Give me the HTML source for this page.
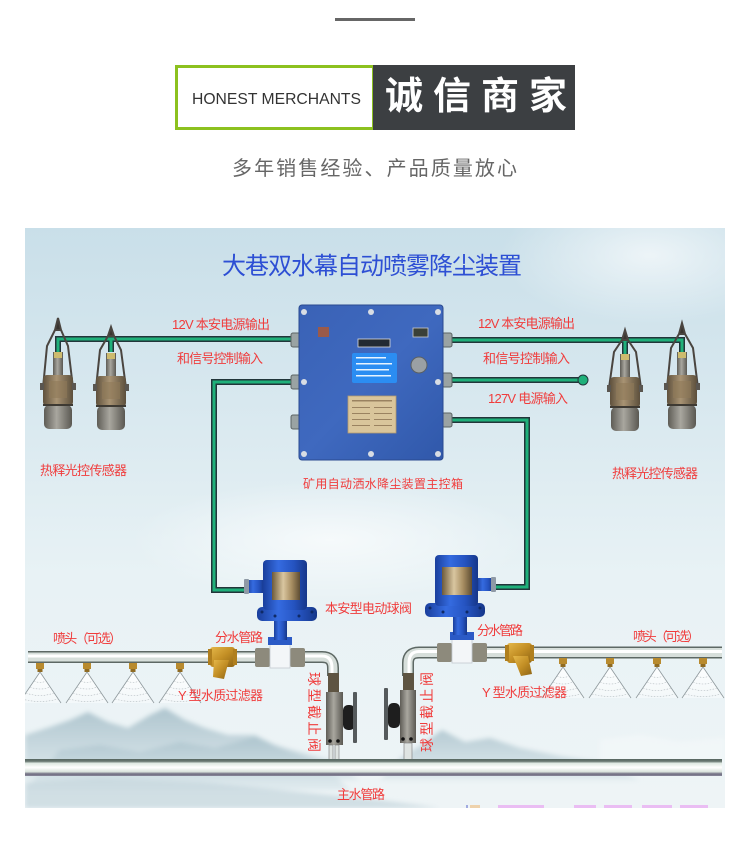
<!DOCTYPE html>
<html><head><meta charset="utf-8"><style>
html,body{margin:0;padding:0;background:#fff;}
svg{display:block}
text{font-family:"Liberation Sans","Noto Sans CJK SC",sans-serif;}
</style></head><body>
<svg width="750" height="850" viewBox="0 0 750 850" xmlns="http://www.w3.org/2000/svg">
<defs>
 <linearGradient id="bg" x1="0" y1="0" x2="0" y2="1">
  <stop offset="0" stop-color="#c9dfe9"/>
  <stop offset="0.3" stop-color="#d8e8ef"/>
  <stop offset="0.6" stop-color="#e8f2f5"/>
  <stop offset="1" stop-color="#eef4f6"/>
 </linearGradient>
 <radialGradient id="cloud" cx="0.5" cy="0.5" r="0.5">
  <stop offset="0" stop-color="#ffffff" stop-opacity="0.65"/>
  <stop offset="1" stop-color="#ffffff" stop-opacity="0"/>
 </radialGradient>
 <linearGradient id="mtn" x1="0" y1="0" x2="0" y2="1">
  <stop offset="0" stop-color="#a9c1cb"/>
  <stop offset="1" stop-color="#dde9ed"/>
 </linearGradient>
 <linearGradient id="boxg" x1="0" y1="0" x2="1" y2="1">
  <stop offset="0" stop-color="#3a62b6"/>
  <stop offset="0.5" stop-color="#3f69bf"/>
  <stop offset="1" stop-color="#3058aa"/>
 </linearGradient>
 <linearGradient id="bluev" x1="0" y1="0" x2="1" y2="0">
  <stop offset="0" stop-color="#1a3f9c"/>
  <stop offset="0.35" stop-color="#356be0"/>
  <stop offset="0.7" stop-color="#2553c0"/>
  <stop offset="1" stop-color="#163789"/>
 </linearGradient>
 <linearGradient id="copper" x1="0" y1="0" x2="1" y2="0">
  <stop offset="0" stop-color="#6d5a3a"/>
  <stop offset="0.4" stop-color="#d9c6a0"/>
  <stop offset="0.7" stop-color="#a88e62"/>
  <stop offset="1" stop-color="#5e4d33"/>
 </linearGradient>
 <linearGradient id="bronze" x1="0" y1="0" x2="1" y2="0">
  <stop offset="0" stop-color="#5f513d"/>
  <stop offset="0.45" stop-color="#a89373"/>
  <stop offset="1" stop-color="#5c4f3c"/>
 </linearGradient>
 <linearGradient id="steel" x1="0" y1="0" x2="1" y2="0">
  <stop offset="0" stop-color="#5e5c56"/>
  <stop offset="0.45" stop-color="#a9a79f"/>
  <stop offset="1" stop-color="#5a5852"/>
 </linearGradient>
 <linearGradient id="brass" x1="0" y1="0" x2="1" y2="1">
  <stop offset="0" stop-color="#e5b84a"/>
  <stop offset="0.5" stop-color="#c38f25"/>
  <stop offset="1" stop-color="#8e6414"/>
 </linearGradient>
 <linearGradient id="mainp" x1="0" y1="0" x2="0" y2="1">
  <stop offset="0" stop-color="#56655f"/>
  <stop offset="0.14" stop-color="#6b7a74"/>
  <stop offset="0.25" stop-color="#dfe8e2"/>
  <stop offset="0.5" stop-color="#ffffff"/>
  <stop offset="0.75" stop-color="#d9e2dc"/>
  <stop offset="0.88" stop-color="#6e6c80"/>
  <stop offset="1" stop-color="#8a889a"/>
 </linearGradient>
 <linearGradient id="spray" x1="0" y1="0" x2="0" y2="1">
  <stop offset="0" stop-color="#ffffff" stop-opacity="0.9"/>
  <stop offset="1" stop-color="#ffffff" stop-opacity="0.4"/>
 </linearGradient>
 <clipPath id="dclip"><rect x="25" y="228" width="700" height="580"/></clipPath>
 <filter id="blur2"><feGaussianBlur stdDeviation="2.5"/></filter>
 <g id="sbody">
  <rect x="-5" y="-23" width="10" height="23" fill="url(#steel)"/>
  <rect x="-4" y="-23" width="8" height="6" fill="#cdbb6e"/>
  <rect x="-15" y="0" width="30" height="31" rx="4" fill="url(#bronze)"/>
  <rect x="-14" y="30" width="28" height="24" rx="5" fill="url(#steel)"/>
  <rect x="-15" y="29" width="30" height="2" fill="#3e3a33"/>
  <rect x="-18" y="8" width="4" height="7" fill="#5a5650"/>
  <rect x="14" y="8" width="4" height="7" fill="#5a5650"/>
  <rect x="-9" y="6" width="18" height="17" fill="#8f7a58" opacity="0.6"/>
 </g>
 <g id="cone">
  <path d="M0 0 L-21 31 L21 31 Z" fill="url(#spray)" stroke="none"/>
  <path d="M0 0 L-21 31 M0 0 L21 31" stroke="#8e989c" stroke-width="0.8" fill="none"/>
  <path d="M-6 9 Q0 12 6 9 M-10 15 Q0 19 10 15 M-14 21 Q0 26 14 21 M-18 27 Q0 32 18 27" stroke="#b4bcc0" stroke-width="0.6" fill="none" stroke-dasharray="1.5 1.5"/>
 </g>
 <g id="nozzle">
  <rect x="-4" y="0" width="8" height="6" fill="#b88a2e"/>
  <rect x="-2.5" y="6" width="5" height="3" fill="#8f6a20"/>
 </g>
</defs>

<!-- Header -->
<rect x="335" y="18" width="80" height="3" fill="#666"/>
<rect x="176.5" y="66.5" width="197" height="62" fill="#fff" stroke="#8cc11f" stroke-width="3"/>
<rect x="373" y="65" width="202" height="65" fill="#3c3f42"/>
<text x="192" y="104" font-size="16" fill="#333" textLength="169" lengthAdjust="spacingAndGlyphs">HONEST MERCHANTS</text>
<text x="385" y="109" font-size="38" font-weight="bold" fill="#fff" textLength="182" lengthAdjust="spacing">诚信商家</text>
<text x="232" y="175" font-size="20" fill="#666" textLength="285" lengthAdjust="spacing">多年销售经验、产品质量放心</text>

<!-- Diagram -->
<g clip-path="url(#dclip)">
 <rect x="25" y="228" width="700" height="580" fill="url(#bg)"/>
 <ellipse cx="650" cy="255" rx="150" ry="70" fill="url(#cloud)"/>
 <ellipse cx="330" cy="540" rx="200" ry="60" fill="url(#cloud)"/>
 <g filter="url(#blur2)">
  <polygon points="25,780 25,735 50,727 70,720 88,712 108,722 128,728 150,715 165,708 185,720 205,728 228,735 255,735 275,745 300,752 330,760 360,780" fill="url(#mtn)" opacity="0.9"/>
  <polygon points="25,790 60,750 100,745 140,752 180,742 215,748 255,737 285,750 320,762 350,790" fill="url(#mtn)" opacity="0.8"/>
  <polygon points="380,780 400,758 420,746 442,730 465,742 490,738 520,748 560,756 600,762 640,780" fill="url(#mtn)" opacity="0.8"/>
  <polygon points="25,808 25,782 100,778 200,782 300,792 380,800 440,808" fill="#c4d6dd" opacity="0.7"/>
  <polygon points="600,740 640,735 680,742 725,738 725,770 600,770" fill="#f4f8f9" opacity="0.7"/>
 </g>

 <!-- Title -->
 <text x="222" y="274" font-size="24" fill="#2d4fd4" textLength="300" lengthAdjust="spacing">大巷双水幕自动喷雾降尘装置</text>

 <!-- Cables -->
 <g fill="none" stroke-linejoin="miter">
  <path d="M58 352 V339 H300 M111 352 V339" stroke="#22353a" stroke-width="6"/>
  <path d="M58 352 V339 H300 M111 352 V339" stroke="#1fb07a" stroke-width="3"/>
  <path d="M300 382 H214 V590 H248" stroke="#22353a" stroke-width="6"/>
  <path d="M300 382 H214 V590 H248" stroke="#1fb07a" stroke-width="3"/>
  <path d="M443 340 H682 V352 M625 340 V354" stroke="#22353a" stroke-width="6"/>
  <path d="M443 340 H682 V352 M625 340 V354" stroke="#1fb07a" stroke-width="3"/>
  <path d="M443 380 H583" stroke="#22353a" stroke-width="6"/>
  <path d="M443 380 H583" stroke="#1fb07a" stroke-width="3"/>
  <path d="M443 420 H527 V587 H492" stroke="#22353a" stroke-width="6"/>
  <path d="M443 420 H527 V587 H492" stroke="#1fb07a" stroke-width="3"/>
 </g>
 <circle cx="583" cy="380" r="5" fill="#1fb07a" stroke="#22353a" stroke-width="1"/>

 <!-- Sensors -->
 <g stroke="#4a4540" stroke-width="2" fill="none">
  <path d="M55 330 L58 318 L61 330 Z" fill="#3a3530"/>
  <path d="M55 330 L47 346 L43 388 M61 330 L68 346 L73 388"/>
  <path d="M108 336 L111 327 L114 336 Z" fill="#3a3530"/>
  <path d="M108 336 L100 350 L96 388 M114 336 L121 350 L126 388"/>
  <path d="M622 340 L625 330 L628 340 Z" fill="#3a3530"/>
  <path d="M622 340 L614 352 L609 388 M628 340 L636 352 L641 388"/>
  <path d="M679 334 L682 323 L685 334 Z" fill="#3a3530"/>
  <path d="M679 334 L671 348 L667 388 M685 334 L693 348 L698 388"/>
 </g>
 <use href="#sbody" x="58" y="375"/>
 <use href="#sbody" x="111" y="376"/>
 <use href="#sbody" x="625" y="377"/>
 <use href="#sbody" x="682" y="375"/>

 <!-- Control box glands -->
 <g fill="#9aa3a3" stroke="#5c6464" stroke-width="1">
  <rect x="291" y="333" width="10" height="14" rx="2"/>
  <rect x="291" y="375" width="10" height="14" rx="2"/>
  <rect x="291" y="415" width="10" height="14" rx="2"/>
  <rect x="442" y="333" width="10" height="14" rx="2"/>
  <rect x="442" y="373" width="10" height="14" rx="2"/>
  <rect x="442" y="413" width="10" height="14" rx="2"/>
 </g>
 <!-- Control box -->
 <rect x="299" y="305" width="144" height="155" rx="3" fill="url(#boxg)" stroke="#2a4a90" stroke-width="1"/>
 <g fill="#d8dde4">
  <circle cx="304" cy="312" r="3"/><circle cx="371" cy="312" r="3"/><circle cx="438" cy="312" r="3"/>
  <circle cx="304" cy="382" r="3"/><circle cx="438" cy="382" r="3"/>
  <circle cx="304" cy="454" r="3"/><circle cx="371" cy="454" r="3"/><circle cx="438" cy="454" r="3"/>
 </g>
 <rect x="318" y="327" width="11" height="10" fill="#9a5a4a"/>
 <rect x="413" y="328" width="15" height="9" fill="#3a4038" stroke="#ccc" stroke-width="0.8"/>
 <rect x="358" y="339" width="32" height="8" fill="#222a33" stroke="#ddd" stroke-width="0.8"/>
 <rect x="352" y="353" width="45" height="30" rx="2" fill="#2b8df2"/>
 <g fill="#e8f4ff">
  <rect x="356" y="357" width="30" height="1.5"/>
  <rect x="356" y="363" width="36" height="1.5"/>
  <rect x="356" y="369" width="33" height="1.5"/>
  <rect x="356" y="375" width="35" height="1.5"/>
 </g>
 <circle cx="419" cy="365" r="8" fill="#9aa0a4" stroke="#5a6064"/>
 <rect x="348" y="396" width="48" height="37" fill="#d9c59b" stroke="#b49a6e" stroke-width="0.8"/>
 <g fill="#9a8260">
  <rect x="352" y="400" width="40" height="1.5"/>
  <rect x="352" y="407" width="18" height="1"/><rect x="374" y="407" width="18" height="1"/>
  <rect x="352" y="413" width="18" height="1"/><rect x="374" y="413" width="18" height="1"/>
  <rect x="352" y="419" width="18" height="1"/><rect x="374" y="419" width="18" height="1"/>
  <rect x="352" y="425" width="18" height="1"/><rect x="374" y="425" width="18" height="1"/>
 </g>

 <!-- Branch pipes -->
 <g fill="none" stroke-linecap="butt">
  <path d="M28 657 H322 Q333 657 333 668 V676" stroke="#5d6864" stroke-width="12"/>
  <path d="M28 657 H322 Q333 657 333 668 V676" stroke="#d7dfdb" stroke-width="9"/>
  <path d="M28 656 H322 Q332 656 332 668 V676" stroke="#ffffff" stroke-width="3"/>
  <path d="M722 652.5 H419 Q408 652.5 408 663 V676" stroke="#5d6864" stroke-width="12"/>
  <path d="M722 652.5 H419 Q408 652.5 408 663 V676" stroke="#d7dfdb" stroke-width="9"/>
  <path d="M722 651.5 H419 Q409 651.5 409 663 V676" stroke="#ffffff" stroke-width="3"/>
 </g>

 <!-- Nozzles and sprays -->
 <use href="#nozzle" x="40" y="663"/><use href="#nozzle" x="87" y="663"/>
 <use href="#nozzle" x="133" y="663"/><use href="#nozzle" x="180" y="663"/>
 <use href="#cone" x="40" y="672"/><use href="#cone" x="87" y="672"/>
 <use href="#cone" x="133" y="672"/><use href="#cone" x="180" y="672"/>
 <use href="#nozzle" x="563" y="658"/><use href="#nozzle" x="610" y="658"/>
 <use href="#nozzle" x="657" y="658"/><use href="#nozzle" x="703" y="658"/>
 <use href="#cone" x="563" y="667"/><use href="#cone" x="610" y="667"/>
 <use href="#cone" x="657" y="667"/><use href="#cone" x="703" y="667"/>

 <!-- Y filters -->
 <rect x="210" y="647" width="25" height="20" rx="3" fill="url(#brass)"/>
 <rect x="208" y="649" width="4" height="16" fill="#b07f1e"/>
 <rect x="233" y="649" width="4" height="16" fill="#b07f1e"/>
 <polygon points="214,660 229,660 224,679 213,677" fill="url(#brass)"/>
 <rect x="507" y="643" width="25" height="20" rx="3" fill="url(#brass)"/>
 <rect x="505" y="645" width="4" height="16" fill="#b07f1e"/>
 <rect x="530" y="645" width="4" height="16" fill="#b07f1e"/>
 <polygon points="513,656 528,656 532,674 521,676" fill="url(#brass)"/>

 <!-- Left electric valve -->
 <rect x="255" y="648" width="15" height="19" rx="2" fill="#8d8a7c"/>
 <rect x="290" y="648" width="15" height="19" rx="2" fill="#8d8a7c"/>
 <rect x="270" y="643" width="20" height="25" fill="#f3f6f8" stroke="#c3cad0" stroke-width="0.8"/>
 <rect x="268" y="637" width="24" height="8" fill="#2b5ac6"/>
 <rect x="274" y="620" width="13" height="20" fill="url(#bluev)"/>
 <rect x="257" y="607" width="60" height="14" rx="5" fill="url(#bluev)"/>
 <g fill="#0f2a66"><circle cx="262" cy="612" r="1.5"/><circle cx="275" cy="616" r="1.5"/><circle cx="299" cy="616" r="1.5"/><circle cx="312" cy="612" r="1.5"/></g>
 <rect x="247" y="580" width="17" height="13" fill="url(#bluev)"/>
 <rect x="244" y="579" width="5" height="15" rx="1" fill="#8f9aa6"/>
 <rect x="263" y="560" width="44" height="50" rx="4" fill="url(#bluev)"/>
 <rect x="272" y="572" width="28" height="28" fill="url(#copper)"/>

 <!-- Right electric valve -->
 <rect x="437" y="643" width="15" height="19" rx="2" fill="#8d8a7c"/>
 <rect x="472" y="643" width="15" height="19" rx="2" fill="#8d8a7c"/>
 <rect x="452" y="638" width="20" height="25" fill="#f3f6f8" stroke="#c3cad0" stroke-width="0.8"/>
 <rect x="450" y="632" width="24" height="8" fill="#2b5ac6"/>
 <rect x="453" y="615" width="14" height="20" fill="url(#bluev)"/>
 <rect x="425" y="603" width="60" height="14" rx="5" fill="url(#bluev)"/>
 <g fill="#0f2a66"><circle cx="430" cy="608" r="1.5"/><circle cx="443" cy="612" r="1.5"/><circle cx="467" cy="612" r="1.5"/><circle cx="480" cy="608" r="1.5"/></g>
 <rect x="477" y="578" width="16" height="13" fill="url(#bluev)"/>
 <rect x="491" y="577" width="5" height="15" rx="1" fill="#8f9aa6"/>
 <rect x="435" y="555" width="43" height="51" rx="4" fill="url(#bluev)"/>
 <rect x="442" y="567" width="30" height="28" fill="url(#copper)"/>

 <!-- Left manual valve -->
 <rect x="328" y="673" width="11" height="19" fill="#5e5442"/>
 <rect x="326" y="692" width="17" height="53" fill="url(#steel)"/>
 <rect x="343" y="705" width="12" height="25" rx="5" fill="#1e1e1e"/>
 <rect x="353" y="692" width="4" height="51" rx="1" fill="#555a5c"/>
 <circle cx="330" cy="741" r="1.8" fill="#111"/><circle cx="338" cy="741" r="1.8" fill="#111"/>
 <rect x="329" y="745" width="4" height="15" fill="#dfe4e2" stroke="#777" stroke-width="0.6"/>
 <rect x="335" y="745" width="4" height="15" fill="#dfe4e2" stroke="#777" stroke-width="0.6"/>

 <!-- Right manual valve -->
 <rect x="403" y="673" width="11" height="18" fill="#5e5442"/>
 <rect x="400" y="690" width="16" height="53" fill="url(#steel)"/>
 <rect x="388" y="703" width="12" height="25" rx="5" fill="#1e1e1e"/>
 <rect x="384" y="688" width="4" height="52" rx="1" fill="#555a5c"/>
 <circle cx="403" cy="739" r="1.8" fill="#111"/><circle cx="411" cy="739" r="1.8" fill="#111"/>
 <rect x="404" y="743" width="8" height="17" fill="#dfe4e2" stroke="#777" stroke-width="0.6"/>

 <!-- Main pipe -->
 <rect x="25" y="759" width="697" height="17" fill="url(#mainp)"/>

 <!-- faint bottom-right text -->
 <g fill="#e66cf0" opacity="0.4">
  <rect x="466" y="805" width="2" height="3" fill="#3040c0"/>
  <rect x="470" y="805" width="10" height="3" fill="#f0a040"/>
  <rect x="498" y="805" width="46" height="3"/>
  <rect x="574" y="805" width="22" height="3"/>
  <rect x="604" y="805" width="28" height="3"/>
  <rect x="642" y="805" width="30" height="3"/>
  <rect x="680" y="805" width="28" height="3"/>
 </g>

 <!-- Labels -->
 <g fill="#f03c3c" font-size="13">
  <text x="172" y="329" textLength="98" lengthAdjust="spacing">12V 本安电源输出</text>
  <text x="177" y="363" textLength="86" lengthAdjust="spacing">和信号控制输入</text>
  <text x="478" y="328" textLength="97" lengthAdjust="spacing">12V 本安电源输出</text>
  <text x="483" y="363" textLength="87" lengthAdjust="spacing">和信号控制输入</text>
  <text x="488" y="403" textLength="80" lengthAdjust="spacing">127V 电源输入</text>
  <text x="40" y="475" textLength="87" lengthAdjust="spacing">热释光控传感器</text>
  <text x="612" y="478" textLength="86" lengthAdjust="spacing">热释光控传感器</text>
  <text x="303" y="488" font-size="12" textLength="160" lengthAdjust="spacing">矿用自动洒水降尘装置主控箱</text>
  <text x="325" y="613" textLength="87" lengthAdjust="spacing">本安型电动球阀</text>
  <text x="215" y="642" textLength="48" lengthAdjust="spacing">分水管路</text>
  <text x="477" y="635" textLength="46" lengthAdjust="spacing">分水管路</text>
  <text x="53" y="643" textLength="69" lengthAdjust="spacing">喷头（可选）</text>
  <text x="633" y="641" textLength="67" lengthAdjust="spacing">喷头（可选）</text>
  <text x="178" y="700" textLength="85" lengthAdjust="spacing">Y 型水质过滤器</text>
  <text x="482" y="697" textLength="85" lengthAdjust="spacing">Y 型水质过滤器</text>
  <text x="337" y="799" textLength="48" lengthAdjust="spacing">主水管路</text>
  <text transform="translate(314,712) rotate(90)" x="-40" y="5" font-size="14" textLength="80" lengthAdjust="spacing">球型截止阀</text>
  <text transform="translate(427,712) rotate(-90)" x="-40" y="5" font-size="14" textLength="80" lengthAdjust="spacing">球型截止阀</text>
 </g>
</g>
</svg>
</body></html>
